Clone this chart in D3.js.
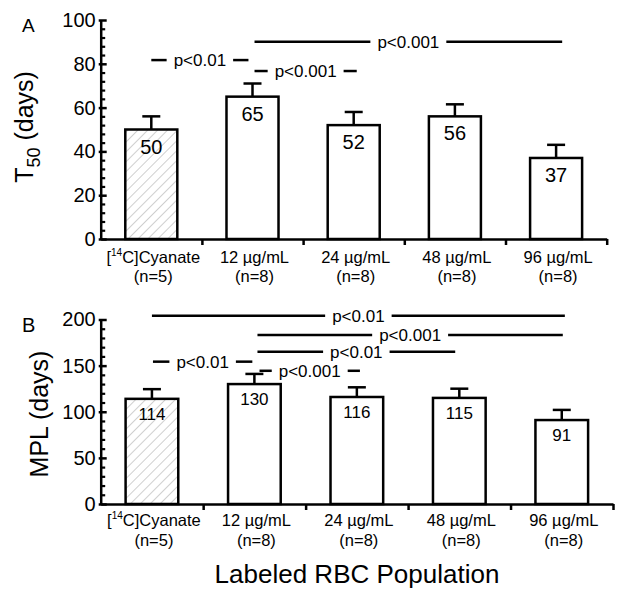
<!DOCTYPE html>
<html>
<head>
<meta charset="utf-8">
<script src="https://cdn.jsdelivr.net/npm/d3@7"></script>
<style>
  html, body { margin: 0; padding: 0; background: #fff; }
  svg { display: block; font-family: "Liberation Sans", Arial, Helvetica, sans-serif; }
</style>
</head>
<body>
<svg id="chart" width="624" height="600"></svg>
<script>
// ---------- data ----------
const categories = ["[14C]Cyanate", "12 µg/mL", "24 µg/mL", "48 µg/mL", "96 µg/mL"];
const sampleSizes = ["(n=5)", "(n=8)", "(n=8)", "(n=8)", "(n=8)"];
const hatched = [true, false, false, false, false];

const t50Values = [50, 65, 52, 56, 37];
const t50Errors = [6, 6, 6, 5.5, 6];
const t50Ticks = [0, 20, 40, 60, 80, 100];

const mplValues = [114, 130, 116, 115, 91];
const mplErrors = [10.5, 11, 10.5, 10, 11];
const mplTicks = [0, 50, 100, 150, 200];

// significance brackets: from/to in category-index units, level in data units
const t50Sig = [
  { from: 1.02, to: 4.06, level: 90.1, label: "p<0.001" },
  { from: 0.0,  to: 0.96, level: 81.7, label: "p<0.01" },
  { from: 1.02, to: 2.03, level: 76.7, label: "p<0.001" }
];
const mplSig = [
  { from: 0.0,  to: 4.03, level: 204.1, label: "p<0.01" },
  { from: 1.03, to: 4.01, level: 183.2, label: "p<0.001" },
  { from: 1.03, to: 2.96, level: 165.1, label: "p<0.01" },
  { from: 0.01, to: 0.98, level: 154.3, label: "p<0.01" },
  { from: 1.05, to: 2.03, level: 144.4, label: "p<0.001" }
];

// ---------- drawing ----------
const svg = d3.select("#chart");
const defs = svg.append("defs");
const pat = defs.append("pattern")
  .attr("id", "hatch").attr("patternUnits", "userSpaceOnUse")
  .attr("width", 7).attr("height", 7)
  .attr("patternTransform", "rotate(45)");
pat.append("rect").attr("width", 7).attr("height", 7).attr("fill", "#fff");
pat.append("line").attr("x1", 0).attr("y1", 0).attr("x2", 0).attr("y2", 7)
  .attr("stroke", "#a8a8a8").attr("stroke-width", 1.1);

const SW = 2.5;

function panel(opts) {
  const { values, errors, ticks, minorStep, domainMax, x0, x1, yTop, yBottom,
          sig, valueFont, valueOffset, catY1, catY2 } = opts;
  const g = svg.append("g");
  const y = d3.scaleLinear().domain([0, domainMax]).range([yBottom, yTop]);
  const xb = d3.scaleBand().domain(d3.range(categories.length)).range([x0, x1]).padding(0);
  const xi = d3.scaleLinear().domain([-0.5, categories.length - 0.5]).range([x0, x1]);
  const xBound = d3.scaleLinear().domain([0, categories.length]).range([x0, x1]);
  const bw = xb.bandwidth() * 0.514;

  // bars
  g.selectAll("rect.bar").data(values).join("rect")
    .attr("class", "bar")
    .attr("x", (d, i) => xb(i) + xb.bandwidth() / 2 - bw / 2)
    .attr("y", d => y(d))
    .attr("width", bw)
    .attr("height", d => y(0) - y(d))
    .attr("fill", (d, i) => hatched[i] ? "url(#hatch)" : "#fff")
    .attr("stroke", "#000").attr("stroke-width", SW);

  // error bars
  const eg = g.selectAll("g.err").data(values).join("g").attr("class", "err");
  eg.append("line")
    .attr("x1", (d, i) => xb(i) + xb.bandwidth() / 2)
    .attr("x2", (d, i) => xb(i) + xb.bandwidth() / 2)
    .attr("y1", d => y(d))
    .attr("y2", (d, i) => y(d + errors[i]))
    .attr("stroke", "#000").attr("stroke-width", SW);
  eg.append("line")
    .attr("x1", (d, i) => xb(i) + xb.bandwidth() / 2 - 9)
    .attr("x2", (d, i) => xb(i) + xb.bandwidth() / 2 + 9)
    .attr("y1", (d, i) => y(d + errors[i]))
    .attr("y2", (d, i) => y(d + errors[i]))
    .attr("stroke", "#000").attr("stroke-width", SW);

  // value labels
  g.selectAll("text.val").data(values).join("text")
    .attr("class", "val")
    .attr("x", (d, i) => xb(i) + xb.bandwidth() / 2)
    .attr("y", d => y(d) + valueOffset)
    .attr("text-anchor", "middle")
    .attr("font-size", valueFont)
    .text(d => d);

  // y axis: minor ticks
  const minors = d3.range(0, domainMax + 0.001, minorStep).filter(v => !ticks.includes(v));
  g.append("g").attr("transform", `translate(${x0},0)`)
    .call(d3.axisLeft(y).tickValues(minors).tickSize(-4.5).tickSizeOuter(0).tickFormat(""))
    .call(a => a.select(".domain").remove())
    .call(a => a.selectAll("line").attr("stroke-width", 2.2));
  // y axis: major ticks
  const ya = g.append("g").attr("transform", `translate(${x0},0)`)
    .call(d3.axisLeft(y).tickValues(ticks).tickSize(-6).tickSizeOuter(0).tickPadding(5));
  ya.select(".domain").attr("stroke-width", SW);
  ya.selectAll(".tick line").attr("stroke-width", SW).attr("x1", -2);
  ya.selectAll(".tick text").attr("font-size", 20).attr("fill", "#000")
    .attr("font-family", '"Liberation Sans", Arial, sans-serif');

  // x axis
  const xa = g.append("g").attr("transform", `translate(0,${y(0)})`)
    .call(d3.axisBottom(xBound).tickValues(d3.range(1, categories.length + 1))
      .tickSize(6).tickSizeOuter(0).tickFormat(""));
  xa.select(".domain").attr("stroke-width", SW);
  xa.selectAll(".tick line").attr("stroke-width", SW);

  // category labels
  const cl = g.selectAll("text.cat").data(categories).join("text")
    .attr("class", "cat")
    .attr("x", (d, i) => xb(i) + xb.bandwidth() / 2 + 2)
    .attr("y", catY1)
    .attr("text-anchor", "middle")
    .attr("font-size", 16.5);
  cl.each(function (d) {
    const t = d3.select(this);
    const m = d.match(/^\[(\d+)(.*)$/);
    if (m) {
      t.append("tspan").text("[");
      t.append("tspan").attr("font-size", 10).attr("dy", -7).text(m[1]);
      t.append("tspan").attr("dy", 7).text(m[2]);
    } else {
      t.text(d);
    }
  });
  g.selectAll("text.n").data(sampleSizes).join("text")
    .attr("class", "n")
    .attr("x", (d, i) => xb(i) + xb.bandwidth() / 2 + 2)
    .attr("y", catY2)
    .attr("text-anchor", "middle")
    .attr("font-size", 16.5)
    .text(d => d);

  // significance lines
  sig.forEach(s => {
    const xa1 = xi(s.from), xa2 = xi(s.to), yy = y(s.level);
    const mid = (xa1 + xa2) / 2;
    const txt = g.append("text")
      .attr("x", mid).attr("y", yy).attr("dy", "0.35em")
      .attr("text-anchor", "middle").attr("font-size", 17)
      .text(s.label);
    const w = txt.node().getComputedTextLength();
    const gap = 7;
    g.append("line").attr("x1", xa1).attr("x2", mid - w / 2 - gap)
      .attr("y1", yy).attr("y2", yy).attr("stroke", "#000").attr("stroke-width", SW);
    g.append("line").attr("x1", mid + w / 2 + gap).attr("x2", xa2)
      .attr("y1", yy).attr("y2", yy).attr("stroke", "#000").attr("stroke-width", SW);
  });
  return g;
}

panel({
  values: t50Values, errors: t50Errors, ticks: t50Ticks, minorStep: 4, domainMax: 100,
  x0: 100.7, x1: 606.7, yTop: 20, yBottom: 239, sig: t50Sig,
  valueFont: 20, valueOffset: 24, catY1: 263, catY2: 282
});
panel({
  values: mplValues, errors: mplErrors, ticks: mplTicks, minorStep: 10, domainMax: 200,
  x0: 100.7, x1: 613, yTop: 319.5, yBottom: 504, sig: mplSig,
  valueFont: 17, valueOffset: 21, catY1: 526, catY2: 546
});

// panel letters
svg.append("text").attr("x", 22).attr("y", 32).attr("font-size", 19).text("A");
svg.append("text").attr("x", 22).attr("y", 332).attr("font-size", 20).text("B");

// y titles
const t1 = svg.append("text")
  .attr("transform", "translate(33,127) rotate(-90)")
  .attr("text-anchor", "middle").attr("font-size", 25);
t1.append("tspan").text("T");
t1.append("tspan").attr("font-size", 18).attr("dy", 7).text("50");
t1.append("tspan").attr("dy", -7).text(" (days)");

svg.append("text")
  .attr("transform", "translate(48,414) rotate(-90)")
  .attr("text-anchor", "middle").attr("font-size", 25)
  .text("MPL (days)");

// x title
svg.append("text").attr("x", 357).attr("y", 583)
  .attr("text-anchor", "middle").attr("font-size", 26)
  .text("Labeled RBC Population");
</script>
</body>
</html>
